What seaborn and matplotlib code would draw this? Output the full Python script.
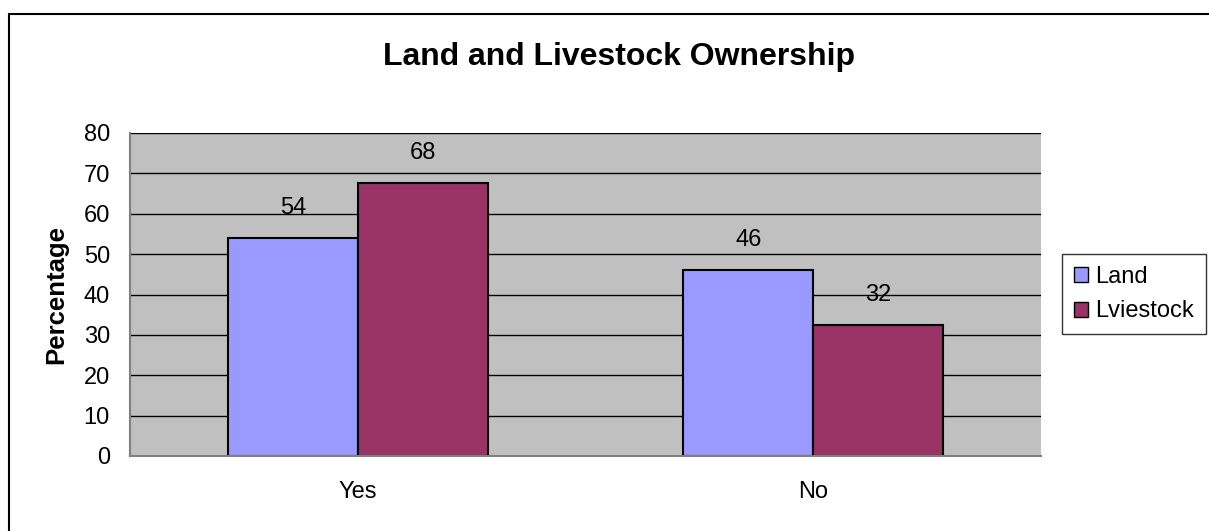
import pandas as pd
import matplotlib.pyplot as plt
import seaborn as sns
from matplotlib.patches import Rectangle, Patch

# values
categories = ["Yes", "No"]
land = [54, 46]
livestock = [67.6, 32.4]
series_names = ["Land", "Lviestock"]
colors = ["#9999FF", "#993366"]

df = pd.DataFrame(
    {
        "answer": categories * 2,
        "value": land + livestock,
        "series": [series_names[0]] * 2 + [series_names[1]] * 2,
    }
)

sns.set_style("white")
plt.rcParams["font.family"] = ["Liberation Sans", "DejaVu Sans"]
plt.rcParams["text.color"] = "black"
plt.rcParams["axes.labelcolor"] = "black"
plt.rcParams["xtick.color"] = "black"
plt.rcParams["ytick.color"] = "black"

fig = plt.figure(figsize=(12.09, 5.31), dpi=100)
W, H = 1209, 531
ax = fig.add_axes([130 / W, 1 - 456 / H, (1041 - 130) / W, (456 - 133) / H])
ax.set_facecolor("#C0C0C0")

sns.barplot(
    data=df,
    x="answer",
    y="value",
    hue="series",
    palette=colors,
    width=0.57,
    edgecolor="black",
    linewidth=1.5,
    saturation=1,
    ax=ax,
    legend=False,
)

for cont in ax.containers:
    ax.bar_label(cont, fmt="%.0f", padding=14, fontsize=17, color="black")

ax.set_ylim(0, 80)
ax.set_xlim(-0.5, 1.5)
ax.set_yticks(range(0, 81, 10))
ax.yaxis.grid(True, color="black", linewidth=1)
ax.set_axisbelow(True)
for s in ["top", "right"]:
    ax.spines[s].set_visible(False)
for s in ["left", "bottom"]:
    ax.spines[s].set_color("#808080")
    ax.spines[s].set_linewidth(1.5)

ax.set_xticks([-0.5, 0.5, 1.5], minor=False)
ax.set_xticklabels([])
ax.set_xticks([0, 1], minor=True)
ax.set_xticklabels(categories, minor=True, fontsize=17)
ax.tick_params(axis="x", which="major", length=6.5, direction="out", color="black")
ax.tick_params(axis="x", which="minor", length=0, pad=18)
ax.tick_params(axis="y", length=6.5, direction="out", color="black", labelsize=17, pad=8)
ax.set_xlabel("")
ax.set_ylabel("Percentage", fontsize=18.5, fontweight="bold", labelpad=11, color="black")

fig.text(619 / W, 1 - 57 / H, "Land and Livestock Ownership",
         ha="center", va="center", fontsize=23, fontweight="bold")

handles = [Patch(facecolor=c, edgecolor="black", label=n) for c, n in zip(colors, series_names)]
leg = fig.legend(
    handles=handles,
    loc="center left",
    bbox_to_anchor=(1062 / W, 1 - 294 / H),
    frameon=True,
    fancybox=False,
    fontsize=17,
    handlelength=0.6,
    handleheight=0.6,
    handletextpad=0.3,
    labelspacing=0.55,
    borderpad=0.5,
    borderaxespad=0,
)
leg.get_frame().set_edgecolor("black")
leg.get_frame().set_linewidth(1)

fig.patches.append(
    Rectangle((9 / W, -0.05), 1.1, 1.05 - 14 / H, transform=fig.transFigure,
              fill=False, edgecolor="black", linewidth=1.5)
)

fig.savefig("out.png", dpi=100)
